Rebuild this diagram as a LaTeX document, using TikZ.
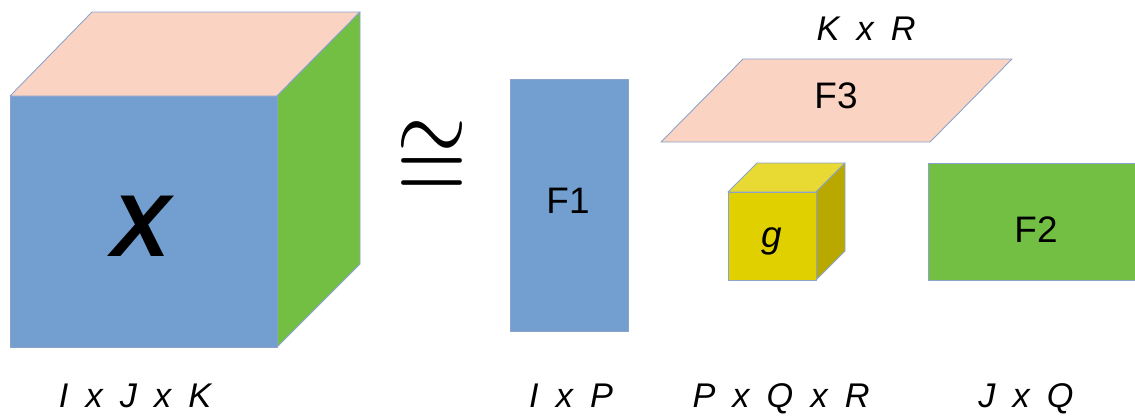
\documentclass[tikz,border=0pt]{standalone}
\usepackage{fontspec}
\usepackage{graphicx}
\setsansfont{Liberation Sans}
\usetikzlibrary{positioning}
\definecolor{tdblue}{HTML}{729FCF}
\definecolor{tdpeach}{HTML}{FAD3C3}
\definecolor{tdgreen}{HTML}{72BF44}
\definecolor{tdyellow}{HTML}{E0D000}
\definecolor{tdyellowtop}{HTML}{E8DA33}
\definecolor{tdyellowside}{HTML}{B8A800}
\definecolor{tdedge}{HTML}{8AA3CC}
\newcommand{\by}{\hspace{0.5em}x\hspace{0.5em}}

\begin{document}
\begin{tikzpicture}[x=0.02cm,y=-0.02cm,
  face/.style={draw=tdedge,line width=0.5pt,line join=round},
  dimlbl/.style={font=\sffamily\itshape\fontsize{19.5}{22}\selectfont,anchor=base},
  factor/.style={font=\sffamily\fontsize{21}{25}\selectfont,anchor=base}]
  \useasboundingbox (0,0) rectangle (1135,417);
  % tensor X
  \draw[face,fill=tdpeach] (10,96) -- (92,12) -- (360,12) -- (277,96) -- cycle;
  \draw[face,fill=tdgreen] (277,96) -- (360,12) -- (360,264) -- (277,347) -- cycle;
  \draw[face,fill=tdblue] (10,96) rectangle (277,347);
  \node[font=\sffamily\bfseries\itshape\fontsize{50}{60}\selectfont,anchor=base] (xlbl) at (141,256) {X};
  \node[dimlbl] (xdim) at (135,407) {I\by J\by K};
  % isomorphism
  \node[inner sep=0pt] (iso) at (432,161) {\scalebox{5.2}[6.5]{$\cong$}};
  % factor F1
  \draw[face,fill=tdblue] (510,79) rectangle (628,331);
  \node[factor] (fone) at (568,213) {F1};
  \node[dimlbl] (fonedim) at (571,407) {I\by P};
  % factor F3
  \draw[face,fill=tdpeach] (743,59) -- (1012,59) -- (930,142) -- (661,142) -- cycle;
  \node[factor] (fthree) at (836,108) {F3};
  \node[dimlbl] (fthreedim) at (866,40) {K\by R};
  % core g
  \draw[face,fill=tdyellowtop] (728,192) -- (757,163) -- (845,163) -- (816,192) -- cycle;
  \draw[face,fill=tdyellowside] (816,192) -- (845,163) -- (845,251) -- (816,280) -- cycle;
  \draw[face,fill=tdyellow] (728,192) rectangle (816,280);
  \node[factor,font=\sffamily\itshape\fontsize{21}{25}\selectfont] (core) at (772,247) {g};
  \node[dimlbl] (coredim) at (781,407) {P\by Q\by R};
  % factor F2
  \draw[face,fill=tdgreen] (928,163) rectangle (1135,280);
  \node[factor] (ftwo) at (1036,242) {F2};
  \node[dimlbl] (ftwodim) at (1026,407) {J\by Q};
\end{tikzpicture}
\end{document}
